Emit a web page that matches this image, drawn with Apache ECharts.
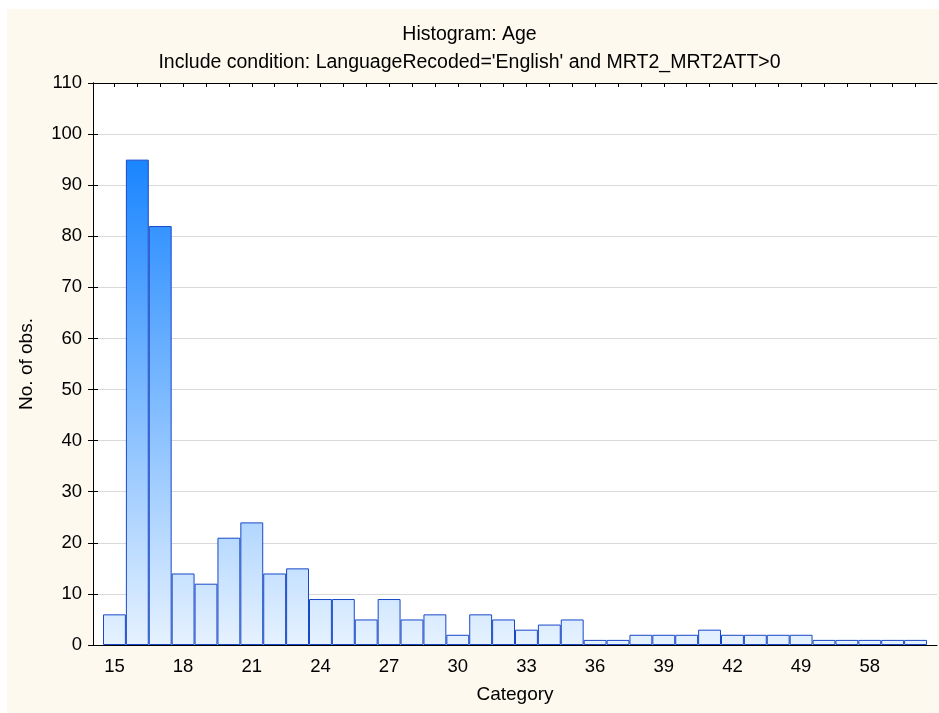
<!DOCTYPE html>
<html>
<head>
<meta charset="utf-8">
<script src="https://cdn.jsdelivr.net/npm/echarts@6/dist/echarts.min.js"></script>
<style>
html,body{margin:0;padding:0;background:#fff;}
#c{width:939px;height:713px;}
</style>
</head>
<body>
<div id="c"></div>
<script>
var categories = ['15','16','17','18','19','20','21','22','23','24','25','26','27','28','29','30','31','32','33','34','35','36','37','38','39','40','41','42','43','45','49','51','55','58','60','65'];
var counts = [6,95,82,14,12,21,24,14,15,9,9,5,9,5,6,2,6,5,3,4,5,1,1,2,2,2,3,2,2,2,2,1,1,1,1,1];
var yTicks = [0,10,20,30,40,50,60,70,80,90,100,110];
var titleText = 'Histogram: Age';
var subText = "Include condition: LanguageRecoded='English' and MRT2_MRT2ATT>0";
var xName = 'Category';
var yName = 'No. of obs.';

var FONT = '"Liberation Sans", Arial, sans-serif';
var chart = echarts.init(document.getElementById('c'), null, {renderer: 'canvas'});

var grad = new echarts.graphic.LinearGradient(0, 160, 0, 645, [
  {offset: 0, color: '#1a85ff'},
  {offset: 0.5, color: '#7fbbff'},
  {offset: 1, color: '#e6f2ff'}
], true);

var option = {
  backgroundColor: '#ffffff',
  animation: false,
  graphic: [{
    type: 'rect', z: -100, silent: true,
    shape: {x: 7, y: 9, width: 932, height: 704},
    style: {fill: '#fdf9ee'}
  }],
  title: [
    {text: titleText, left: 'center', top: 20, textStyle: {fontFamily: FONT, fontSize: 19.5, fontWeight: 'normal', color: '#000'}},
    {text: subText, left: 'center', top: 48, textStyle: {fontFamily: FONT, fontSize: 19.5, fontWeight: 'normal', color: '#000'}}
  ],
  grid: [
    {left: 93, right: 2, top: 83, bottom: 68, show: true, backgroundColor: '#ffffff', borderWidth: 0},
    {left: 103, right: 12, top: 83, bottom: 68, show: false}
  ],
  xAxis: [
    {type: 'value', gridIndex: 0, min: 0, max: 1, position: 'bottom',
     axisLine: {show: true, onZero: false, lineStyle: {color: '#000', width: 1}},
     axisTick: {show: false}, axisLabel: {show: false}, splitLine: {show: false}},
    {type: 'value', gridIndex: 0, min: 0, max: 1, position: 'top',
     axisLine: {show: true, onZero: false, lineStyle: {color: '#000', width: 1}},
     axisTick: {show: false}, axisLabel: {show: false}, splitLine: {show: false}},
    {type: 'category', gridIndex: 1, data: categories, position: 'bottom',
     name: xName, nameLocation: 'middle', nameGap: 40,
     nameTextStyle: {fontFamily: FONT, fontSize: 19, color: '#000'},
     axisLine: {show: false},
     axisTick: {show: true, inside: true, alignWithLabel: true, interval: 0, length: 4, lineStyle: {color: '#000'}},
     axisLabel: {interval: 2, margin: 12, fontFamily: FONT, fontSize: 18.5, color: '#000'},
     splitLine: {show: false}},
    {type: 'category', gridIndex: 1, data: categories, position: 'top',
     axisLine: {show: false},
     axisTick: {show: true, inside: true, alignWithLabel: true, interval: 0, length: 4, lineStyle: {color: '#000'}},
     axisLabel: {show: false}, splitLine: {show: false}}
  ],
  yAxis: [
    {type: 'value', gridIndex: 0, min: yTicks[0], max: yTicks[yTicks.length - 1], interval: 10, position: 'left',
     name: yName, nameLocation: 'middle', nameGap: 57, nameRotate: 90,
     nameTextStyle: {fontFamily: FONT, fontSize: 19, color: '#000'},
     axisLine: {show: true, lineStyle: {color: '#000', width: 1}},
     axisTick: {show: true, inside: true, length: 5, lineStyle: {color: '#000'}},
     axisLabel: {margin: 11, fontFamily: FONT, fontSize: 18.5, color: '#000'},
     splitLine: {show: true, lineStyle: {color: '#d9d9d9', width: 1}}},
    {type: 'value', gridIndex: 0, min: yTicks[0], max: yTicks[yTicks.length - 1], interval: 10, position: 'right',
     axisLine: {show: true, lineStyle: {color: '#000', width: 1}},
     axisTick: {show: true, inside: true, length: 5, lineStyle: {color: '#000'}},
     axisLabel: {show: false}, splitLine: {show: false}},
    {type: 'value', gridIndex: 1, min: yTicks[0], max: yTicks[yTicks.length - 1], interval: 10,
     show: false}
  ],
  series: [{
    type: 'bar',
    xAxisIndex: 2, yAxisIndex: 2,
    data: counts,
    barCategoryGap: 0,
    itemStyle: {color: grad, borderColor: '#1848c8', borderWidth: 1},
    z: 3
  }]
};
chart.setOption(option);
</script>
</body>
</html>
